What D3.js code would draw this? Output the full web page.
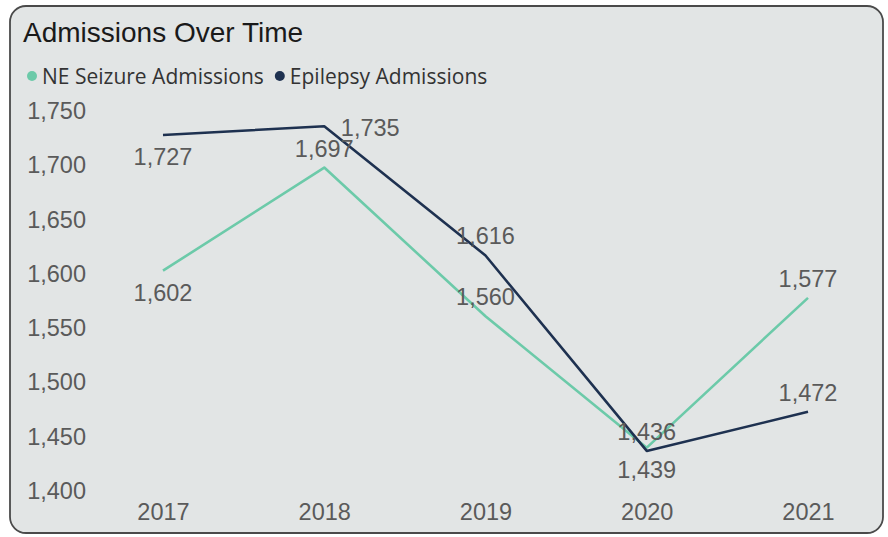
<!DOCTYPE html>
<html>
<head>
  <style>
    body { margin: 0; background: #fff; }
    svg { display: block; }
    .tick text { fill: #5a5a5a; }
  </style>
  <script src="https://cdn.jsdelivr.net/npm/d3@7"></script>
</head>
<body>
  <script>
    const years = ["2017", "2018", "2019", "2020", "2021"];
    const neSeizure = [1602, 1697, 1560, 1439, 1577];
    const epilepsy = [1727, 1735, 1616, 1436, 1472];
    const yTicks = [1400, 1450, 1500, 1550, 1600, 1650, 1700, 1750];
    // where each data label sits relative to its point
    const neLabelPos = ["below", "above", "above", "below", "above"];
    const epLabelPos = ["below", "right", "above", "above", "above"];

    const width = 888, height = 537;
    const teal = "#6ccaa9", navy = "#1e3150";
    const numFont = "'Liberation Sans', Arial, sans-serif";
    const numSize = 23.5;

    const svg = d3.select("body").append("svg")
      .attr("width", width)
      .attr("height", height);

    // card
    svg.append("rect")
      .attr("x", 10).attr("y", 6)
      .attr("width", 873).attr("height", 527)
      .attr("rx", 16)
      .attr("fill", "#e2e5e5")
      .attr("stroke", "#4a4a4a")
      .attr("stroke-width", 1.8);

    svg.append("text")
      .attr("x", 23).attr("y", 42)
      .attr("font-family", numFont)
      .attr("font-size", 28)
      .attr("fill", "#1a1a1a")
      .text("Admissions Over Time");

    // legend
    const legend = [
      { name: "NE Seizure Admissions", color: teal },
      { name: "Epilepsy Admissions", color: navy }
    ];
    let lx = 32;
    legend.forEach(d => {
      svg.append("circle")
        .attr("cx", lx).attr("cy", 76).attr("r", 5)
        .attr("fill", d.color);
      const t = svg.append("text")
        .attr("x", lx + 10).attr("y", 84)
        .attr("font-family", "'Open Sans', 'Noto Sans', sans-serif")
        .attr("font-size", 21)
        .attr("fill", "#333")
        .text(d.name);
      lx += 10 + t.node().getComputedTextLength() + 16;
    });

    const x = d3.scalePoint().domain(years).range([163, 808]);
    const y = d3.scaleLinear().domain([1400, 1750]).range([490, 110]);

    const yAxis = svg.append("g")
      .attr("transform", "translate(86,0)")
      .call(d3.axisLeft(y).tickValues(yTicks).tickFormat(d3.format(",")).tickSize(0).tickPadding(0));
    yAxis.select(".domain").remove();
    yAxis.selectAll("text")
      .attr("font-family", numFont)
      .attr("font-size", numSize)
      .attr("dy", "0.36em");

    const xAxis = svg.append("g")
      .attr("transform", "translate(0,520)")
      .call(d3.axisBottom(x).tickSize(0).tickPadding(0));
    xAxis.select(".domain").remove();
    xAxis.selectAll("text")
      .attr("font-family", numFont)
      .attr("font-size", numSize)
      .attr("dy", "0");

    const line = d3.line()
      .x((d, i) => x(years[i]))
      .y(d => y(d));

    const series = [
      { values: neSeizure, color: teal, pos: neLabelPos },
      { values: epilepsy, color: navy, pos: epLabelPos }
    ];

    series.forEach(s => {
      svg.append("path")
        .datum(s.values)
        .attr("fill", "none")
        .attr("stroke", s.color)
        .attr("stroke-width", 2.6)
        .attr("stroke-linejoin", "round")
        .attr("d", line);
    });

    series.forEach(s => {
      svg.append("g").selectAll("text")
        .data(s.values)
        .enter().append("text")
        .attr("font-family", numFont)
        .attr("font-size", numSize)
        .attr("fill", "#5a5a5a")
        .attr("text-anchor", "middle")
        .attr("x", (d, i) => x(years[i]) + (s.pos[i] === "right" ? 46 : 0))
        .attr("y", (d, i) => {
          const p = s.pos[i];
          if (p === "above") return y(d) - 11;
          if (p === "below") return y(d) + 30;
          return y(d) + 10;
        })
        .text(d => d3.format(",")(d));
    });
  </script>
</body>
</html>
